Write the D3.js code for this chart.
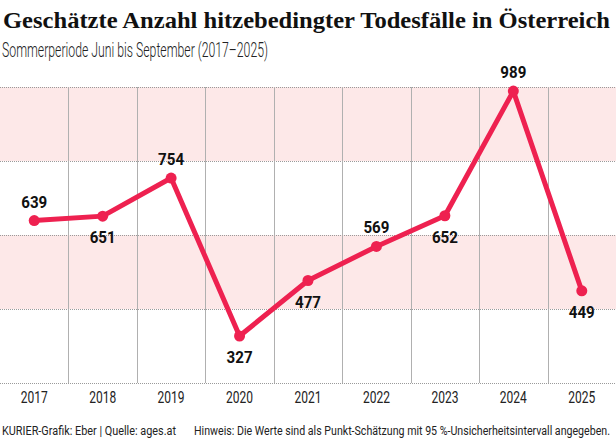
<!DOCTYPE html>
<html>
<head>
<meta charset="utf-8">
<script src="https://cdn.jsdelivr.net/npm/d3@7"></script>
<style>
  html, body { margin: 0; padding: 0; background: #fff; }
  svg { display: block; }
  .title { font-family: "Liberation Serif", "DejaVu Serif", serif; font-weight: bold; }
  .sub, .year, .foot { font-family: "Roboto", sans-serif; fill: #222; }
  .val { font-family: "Roboto", sans-serif; font-weight: bold; fill: #111; }
</style>
</head>
<body>
<div id="chart"></div>
<script>
var years = ["2017", "2018", "2019", "2020", "2021", "2022", "2023", "2024", "2025"];
var deaths = [639, 651, 754, 327, 477, 569, 652, 989, 449];
var labelSide = ["up", "down", "up", "down", "down", "up", "down", "up", "down"];
var gridValues = [200, 400, 600, 800, 1000];

var W = 616, H = 440;
var red = "#ee2150";

var svg = d3.select("#chart").append("svg")
	.attr("width", W)
	.attr("height", H);

var x = d3.scaleBand().domain(years).range([0, W]).padding(0);
var y = d3.scaleLinear().domain([200, 1000]).range([383, 87]);

// pink bands
var bands = [[800, 1000], [400, 600]];
svg.selectAll("rect.band").data(bands).enter().append("rect")
	.attr("class", "band")
	.attr("x", 0)
	.attr("width", W)
	.attr("y", d => y(d[1]))
	.attr("height", d => y(d[0]) - y(d[1]))
	.attr("fill", "#fde8e8");

// dotted horizontal lines
svg.selectAll("line.h").data(gridValues).enter().append("line")
	.attr("class", "h")
	.attr("x1", 0).attr("x2", W)
	.attr("y1", d => Math.round(y(d)) + 0.5)
	.attr("y2", d => Math.round(y(d)) + 0.5)
	.attr("stroke", "#9a9a9a")
	.attr("stroke-width", 1)
	.attr("stroke-dasharray", "1,1");

// vertical separators
svg.selectAll("line.v").data(years.slice(1)).enter().append("line")
	.attr("class", "v")
	.attr("x1", d => Math.round(x(d)) + 0.5)
	.attr("x2", d => Math.round(x(d)) + 0.5)
	.attr("y1", y(1000))
	.attr("y2", y(200))
	.attr("stroke", "#b0b0b0")
	.attr("stroke-width", 1);

var cx = d => x(d) + x.bandwidth() / 2;

var line = d3.line()
	.x((d, i) => cx(years[i]))
	.y(d => y(d));

svg.append("path")
	.datum(deaths)
	.attr("d", line)
	.attr("fill", "none")
	.attr("stroke", red)
	.attr("stroke-width", 5)
	.attr("stroke-linejoin", "round");

svg.selectAll("circle.pt").data(deaths).enter().append("circle")
	.attr("class", "pt")
	.attr("cx", (d, i) => cx(years[i]))
	.attr("cy", d => y(d))
	.attr("r", 5.5)
	.attr("fill", red);

svg.selectAll("text.val").data(deaths).enter().append("text")
	.attr("class", "val")
	.attr("x", (d, i) => cx(years[i]))
	.attr("y", (d, i) => labelSide[i] == "up" ? y(d) - 13 : y(d) + 27)
	.attr("text-anchor", "middle")
	.attr("font-size", 17)
	.attr("textLength", 26)
	.attr("lengthAdjust", "spacingAndGlyphs")
	.text(d => d);

// x axis labels
var xAxis = d3.axisBottom(x).tickSize(0).tickPadding(0);
var gx = svg.append("g")
	.attr("transform", "translate(0,390)")
	.call(xAxis);
gx.select(".domain").remove();
gx.selectAll("text")
	.attr("class", "year")
	.attr("font-family", "Roboto, sans-serif")
	.attr("font-size", 17)
	.attr("fill", "#222")
	.attr("textLength", 27)
	.attr("lengthAdjust", "spacingAndGlyphs")
	.attr("dy", "0.75em");

// title + subtitle
svg.append("text")
	.attr("class", "title")
	.attr("x", 3).attr("y", 28)
	.attr("font-size", 23)
	.attr("fill", "#111")
	.attr("textLength", 607)
	.attr("lengthAdjust", "spacingAndGlyphs")
	.text("Geschätzte Anzahl hitzebedingter Todesfälle in Österreich");

svg.append("text")
	.attr("class", "sub")
	.attr("x", 2).attr("y", 57)
	.attr("font-size", 19.5)
	.attr("font-weight", 300)
	.attr("textLength", 266)
	.attr("lengthAdjust", "spacingAndGlyphs")
	.text("Sommerperiode Juni bis September (2017–2025)");

// footer
svg.append("text")
	.attr("class", "foot")
	.attr("x", 2).attr("y", 435)
	.attr("font-size", 12.5)
	.attr("textLength", 174)
	.attr("lengthAdjust", "spacingAndGlyphs")
	.text("KURIER-Grafik: Eber | Quelle: ages.at");

svg.append("text")
	.attr("class", "foot")
	.attr("x", 194).attr("y", 435)
	.attr("font-size", 12.5)
	.attr("textLength", 416)
	.attr("lengthAdjust", "spacingAndGlyphs")
	.text("Hinweis: Die Werte sind als Punkt-Schätzung mit 95 %-Unsicherheitsintervall angegeben.");
</script>
</body>
</html>
